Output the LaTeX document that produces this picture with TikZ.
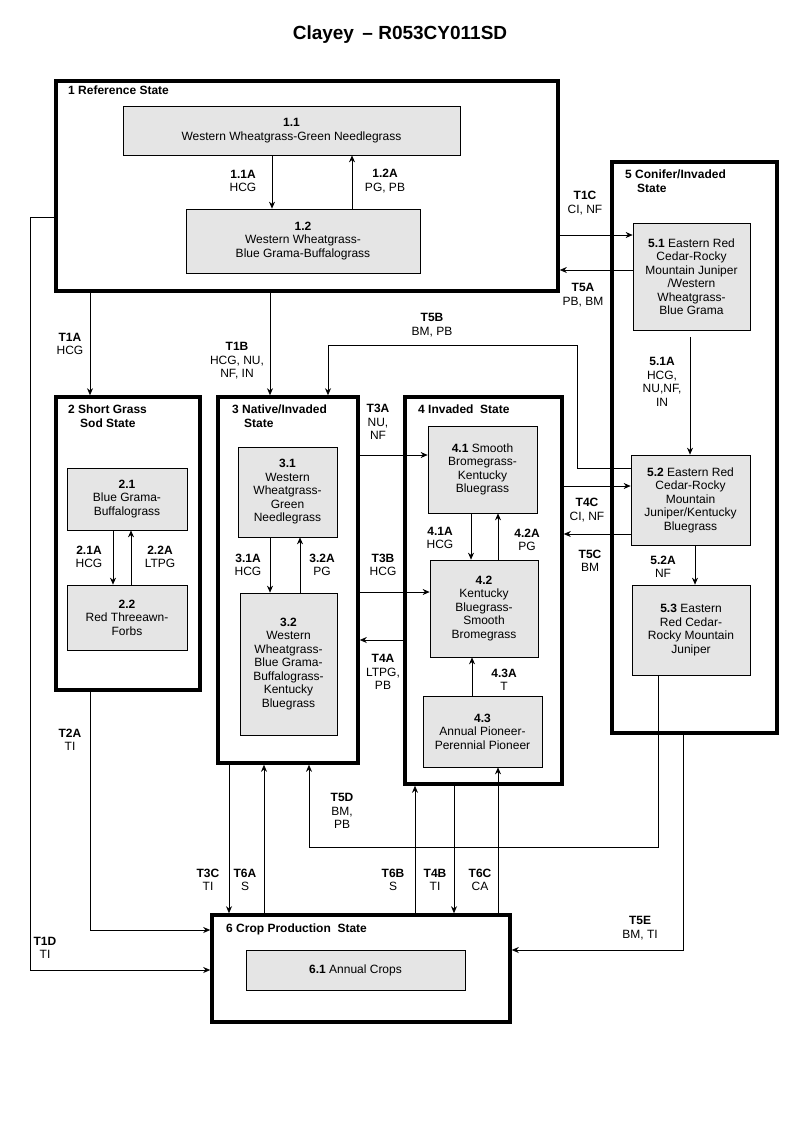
\documentclass[tikz,border=0pt]{standalone}
\usepackage{fontspec}
\setmainfont{Liberation Sans}
\usetikzlibrary{arrows.meta}
\begin{document}
\begin{tikzpicture}[x=1pt,y=-1pt,
  st/.style={draw,line width=3.6pt,inner sep=0pt},
  sub/.style={draw,fill=gray!20,line width=0.7pt,inner sep=0pt,align=center,font=\fontsize{12}{13.5}\selectfont},
  ttl/.style={anchor=north west,align=left,font=\bfseries\fontsize{12}{14}\selectfont,inner sep=0pt},
  lab/.style={align=center,font=\fontsize{12}{13.5}\selectfont,inner sep=0pt},
  arr/.style={-{Stealth[length=7pt,width=6pt]},line width=0.7pt},
  ln/.style={line width=0.7pt}]
\useasboundingbox (0,0) rectangle (800,1143);
\node[font=\bfseries\fontsize{19}{22}\selectfont] (title) at (400,35) {Clayey \,– R053CY011SD};
% states
\node[st,minimum width=502pt,minimum height=210pt] (b1) at (307,186) {};
\node[st,minimum width=165pt,minimum height=571pt] (b5) at (694.5,447.5) {};
\node[st,minimum width=144pt,minimum height=293pt] (b2) at (128,543.5) {};
\node[st,minimum width=140pt,minimum height=366pt] (b3) at (288,580) {};
\node[st,minimum width=157pt,minimum height=387pt] (b4) at (483.5,590.5) {};
\node[st,minimum width=298pt,minimum height=107pt] (b6) at (361,968.5) {};
\node[ttl] (t1) at (68,86) {1 Reference State};
\node[ttl] (t5) at (625,170) {5 Conifer/Invaded\\\hspace{12pt}State};
\node[ttl] (t2) at (68,405) {2 Short Grass\\\hspace{12pt}Sod State};
\node[ttl] (t3) at (232,405) {3 Native/Invaded\\\hspace{12pt}State};
\node[ttl] (t4) at (418,405) {4 Invaded\ \ State};
\node[ttl] (t6) at (226,924) {6 Crop Production\ \ State};
% substates
\node[sub,minimum width=337pt,minimum height=49pt] (s11) at (291.5,130.5) {\textbf{1.1}\\Western Wheatgrass-Green Needlegrass};
\node[sub,minimum width=234pt,minimum height=64pt] (s12) at (303,241) {\textbf{1.2}\\Western Wheatgrass-\\Blue Grama-Buffalograss};
\node[sub,minimum width=117pt,minimum height=107pt] (s51) at (691.5,276.5) {\textbf{5.1} Eastern Red\\Cedar-Rocky\\Mountain Juniper\\/Western\\Wheatgrass-\\Blue Grama};
\node[sub,minimum width=119pt,minimum height=90pt] (s52) at (690.5,500) {\textbf{5.2} Eastern Red\\Cedar-Rocky\\Mountain\\Juniper/Kentucky\\Bluegrass};
\node[sub,minimum width=118pt,minimum height=90pt] (s53) at (691,630) {\textbf{5.3} Eastern\\Red Cedar-\\Rocky Mountain\\Juniper};
\node[sub,minimum width=120pt,minimum height=62pt] (s21) at (127,499) {\textbf{2.1}\\Blue Grama-\\Buffalograss};
\node[sub,minimum width=120pt,minimum height=65pt] (s22) at (127,617.5) {\textbf{2.2}\\Red Threeawn-\\Forbs};
\node[sub,minimum width=99pt,minimum height=90pt] (s31) at (287.5,492) {\textbf{3.1}\\Western\\Wheatgrass-\\Green\\Needlegrass};
\node[sub,minimum width=97pt,minimum height=142pt] (s32) at (288.5,664) {\textbf{3.2}\\Western\\Wheatgrass-\\Blue Grama-\\Buffalograss-\\Kentucky\\Bluegrass};
\node[sub,minimum width=109pt,minimum height=87pt] (s41) at (482.5,469.5) {\textbf{4.1} Smooth\\Bromegrass-\\Kentucky\\Bluegrass};
\node[sub,minimum width=108pt,minimum height=97pt] (s42) at (484,608.5) {\textbf{4.2}\\Kentucky\\Bluegrass-\\Smooth\\Bromegrass};
\node[sub,minimum width=119pt,minimum height=71pt] (s43) at (482.5,731.5) {\textbf{4.3}\\Annual Pioneer-\\Perennial Pioneer};
\node[sub,minimum width=219pt,minimum height=40pt] (s61) at (355.5,970) {\textbf{6.1} Annual Crops};
% within-state arrows
\draw[arr] (s11.south -| 272,0) -- (s12.north -| 272,0);
\draw[arr] (s12.north -| 352,0) -- (s11.south -| 352,0);
\node[lab] (l11a) at (243,181) {\textbf{1.1A}\\HCG};
\node[lab] (l12a) at (385,181) {\textbf{1.2A}\\PG, PB};
\draw[arr] (s51.south -| 690,0) ++(0,7) -- (s52.north -| 690,0);
\node[lab] (l51a) at (662,382) {\textbf{5.1A}\\HCG,\\NU,NF,\\IN};
\draw[arr] (s52.south -| 695,0) -- (s53.north -| 695,0);
\node[lab] (l52a) at (663,567) {\textbf{5.2A}\\NF};
\draw[arr] (s21.south -| 113,0) -- (s22.north -| 113,0);
\draw[arr] (s22.north -| 131,0) -- (s21.south -| 131,0);
\node[lab] (l21a) at (89,557) {\textbf{2.1A}\\HCG};
\node[lab] (l22a) at (160,557) {\textbf{2.2A}\\LTPG};
\draw[arr] (s31.south -| 270,0) -- (s32.north -| 270,0);
\draw[arr] (s32.north -| 300,0) -- (s31.south -| 300,0);
\node[lab] (l31a) at (248,565) {\textbf{3.1A}\\HCG};
\node[lab] (l32a) at (322,565) {\textbf{3.2A}\\PG};
\draw[arr] (s41.south -| 471,0) -- (s42.north -| 471,0);
\draw[arr] (s42.north -| 498,0) -- (s41.south -| 498,0);
\node[lab] (l41a) at (440,538) {\textbf{4.1A}\\HCG};
\node[lab] (l42a) at (527,540) {\textbf{4.2A}\\PG};
\draw[arr] (s43.north -| 472,0) -- (s42.south -| 472,0);
\node[lab] (l43a) at (504,680) {\textbf{4.3A}\\T};
% transitions
\draw[arr] (b1.east |- 0,235) -- (s51.west |- 0,235);
\node[lab] (lt1c) at (585,203) {\textbf{T1C}\\CI, NF};
\draw[arr] (s51.west |- 0,270) -- (b1.east |- 0,270);
\node[lab] (lt5a) at (583,295) {\textbf{T5A}\\PB, BM};
\draw[arr] (b1.south -| 90,0) -- (b2.north -| 90,0);
\node[lab] (lt1a) at (70,344) {\textbf{T1A}\\HCG};
\draw[arr] (b1.south -| 270,0) -- (b3.north -| 270,0);
\node[lab] (lt1b) at (237,361) {\textbf{T1B}\\HCG, NU,\\NF, IN};
\coordinate (c5b1) at (577,468); \coordinate (c5b2) at (577,345); \coordinate (c5b3) at (328,345);
\draw[arr] (s52.west |- c5b1) -- (c5b1) -- (c5b2) -- (c5b3) -- (b3.north -| c5b3);
\node[lab] (lt5b) at (432,325) {\textbf{T5B}\\BM, PB};
\draw[arr] (b3.east |- 0,455) -- (s41.west |- 0,455);
\node[lab] (lt3a) at (378,422) {\textbf{T3A}\\NU,\\NF};
\draw[arr] (b4.east |- 0,486) -- (s52.west |- 0,486);
\node[lab] (lt4c) at (587,510) {\textbf{T4C}\\CI, NF};
\draw[arr] (s52.west |- 0,534) -- (b4.east |- 0,534);
\node[lab] (lt5c) at (590,561) {\textbf{T5C}\\BM};
\draw[arr] (b3.east |- 0,592) -- (s42.west |- 0,592);
\node[lab] (lt3b) at (383,565) {\textbf{T3B}\\HCG};
\draw[arr] (b4.west |- 0,640) -- (b3.east |- 0,640);
\node[lab] (lt4a) at (383,672) {\textbf{T4A}\\LTPG,\\PB};
\coordinate (c2a) at (90,930);
\draw[arr] (b2.south -| c2a) -- (c2a) -- (b6.west |- c2a);
\node[lab] (lt2a) at (70,740) {\textbf{T2A}\\TI};
\coordinate (c1d1) at (30,217); \coordinate (c1d2) at (30,970);
\draw[arr] (b1.west |- c1d1) -- (c1d1) -- (c1d2) -- (b6.west |- c1d2);
\node[lab] (lt1d) at (45,948) {\textbf{T1D}\\TI};
\draw[arr] (b3.south -| 229,0) -- (b6.north -| 229,0);
\node[lab] (lt3c) at (208,880) {\textbf{T3C}\\TI};
\draw[arr] (b6.north -| 264,0) -- (b3.south -| 264,0);
\node[lab] (lt6a) at (245,880) {\textbf{T6A}\\S};
\coordinate (c5d1) at (658,847); \coordinate (c5d2) at (309,847);
\draw[arr] (s53.south -| c5d1) -- (c5d1) -- (c5d2) -- (b3.south -| c5d2);
\node[lab] (lt5d) at (342,811) {\textbf{T5D}\\BM,\\PB};
\draw[arr] (b6.north -| 415,0) -- (b4.south -| 415,0);
\node[lab] (lt6b) at (393,880) {\textbf{T6B}\\S};
\draw[arr] (b4.south -| 454,0) -- (b6.north -| 454,0);
\node[lab] (lt4b) at (435,880) {\textbf{T4B}\\TI};
\draw[arr] (b6.north -| 498,0) -- (s43.south -| 498,0);
\node[lab] (lt6c) at (480,880) {\textbf{T6C}\\CA};
\coordinate (c5e) at (683,950);
\draw[arr] (b5.south -| c5e) -- (c5e) -- (b6.east |- c5e);
\node[lab] (lt5e) at (640,928) {\textbf{T5E}\\BM, TI};
\end{tikzpicture}
\end{document}
